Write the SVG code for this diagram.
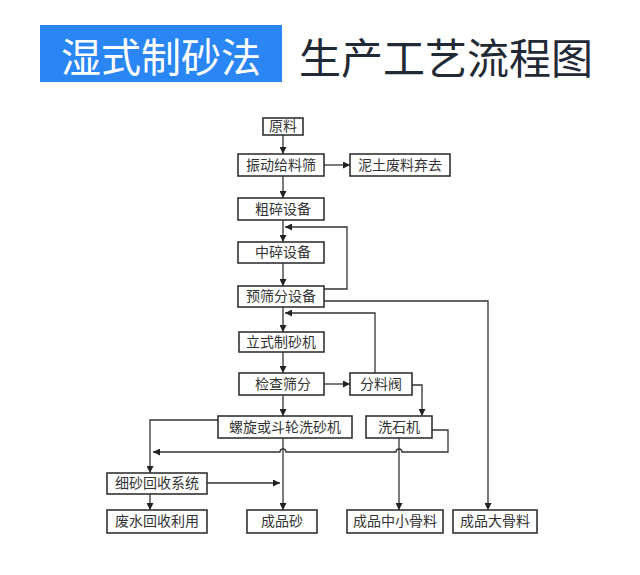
<svg xmlns="http://www.w3.org/2000/svg" width="640" height="575" viewBox="0 0 640 575">
<defs>
<marker id="ah" viewBox="0 0 10 10" refX="10" refY="5" markerWidth="7" markerHeight="7" markerUnits="userSpaceOnUse" orient="auto"><path d="M0,0 L10,5 L0,10 z" fill="#222"/></marker>
<style>
.b{fill:#fff;stroke:#333;stroke-width:1.6}
.t{font-family:"Liberation Serif","Noto Sans CJK SC",serif;font-size:14px;fill:#333;text-anchor:middle;dominant-baseline:central}
.c{fill:none;stroke:#333;stroke-width:1.3}
.a{marker-end:url(#ah)}
</style>
</defs>
<rect width="640" height="575" fill="#fff"/>
<g id="title">
<rect x="40" y="25" width="242" height="57" fill="#2a86f5"/>
<text x="161" y="55" font-family="Noto Sans CJK SC,sans-serif" font-size="40" fill="#fff" text-anchor="middle" dominant-baseline="central">湿式制砂法</text>
<text x="446" y="55" font-family="Noto Sans CJK SC,sans-serif" font-size="42" fill="#1f2a36" text-anchor="middle" dominant-baseline="central">生产工艺流程图</text>
</g>
<g id="connectors">
<path class="c a" d="M283,135 V154"/>
<path class="c a" d="M324,165 H350"/>
<path class="c a" d="M283,176 V198"/>
<path class="c a" d="M283,220 V242"/>
<path class="c a" d="M324,289 H347 V227 H285"/>
<path class="c a" d="M283,263 V286"/>
<path class="c a" d="M324,301 H488 V510"/>
<path class="c a" d="M283,307 V332"/>
<path class="c a" d="M375,373 V313 H285"/>
<path class="c a" d="M283,352 V373"/>
<path class="c a" d="M324,384 H350"/>
<path class="c a" d="M412,385 H422 V416"/>
<path class="c a" d="M283,395 V416"/>
<path class="c a" d="M218,420 H150 V473"/>
<path class="c a" d="M432,430 H448 V452 H402 a3,3 0 0 0 -6,0 H286 a3,3 0 0 0 -6,0 H153"/>
<path class="c a" d="M283,438 V510"/>
<path class="c a" d="M399,438 V510"/>
<path class="c a" d="M207,483 H280"/>
<path class="c a" d="M150,494 V510"/>
</g>
<g id="n1"><rect class="b" x="263" y="118" width="40" height="17"/><text class="t" x="283" y="126.5">原料</text></g>
<g id="n2"><rect class="b" x="238" y="154" width="86" height="22"/><text class="t" x="281" y="165">振动给料筛</text></g>
<g id="n3"><rect class="b" x="350" y="154" width="100" height="22"/><text class="t" x="400" y="165">泥土废料弃去</text></g>
<g id="n4"><rect class="b" x="238" y="198" width="86" height="22"/><text class="t" x="283" y="209">粗碎设备</text></g>
<g id="n5"><rect class="b" x="238" y="242" width="86" height="21"/><text class="t" x="283" y="252.5">中碎设备</text></g>
<g id="n6"><rect class="b" x="238" y="286" width="86" height="21"/><text class="t" x="281" y="296.5">预筛分设备</text></g>
<g id="n7"><rect class="b" x="239" y="332" width="85" height="20"/><text class="t" x="281" y="342">立式制砂机</text></g>
<g id="n8"><rect class="b" x="239" y="373" width="85" height="22"/><text class="t" x="283" y="384">检查筛分</text></g>
<g id="n9"><rect class="b" x="350" y="373" width="62" height="22"/><text class="t" x="381" y="384">分料阀</text></g>
<g id="n10"><rect class="b" x="218" y="416" width="134" height="22"/><text class="t" x="285" y="427">螺旋或斗轮洗砂机</text></g>
<g id="n11"><rect class="b" x="366" y="416" width="66" height="22"/><text class="t" x="399" y="427">洗石机</text></g>
<g id="n12"><rect class="b" x="107" y="473" width="100" height="21"/><text class="t" x="157" y="483.5">细砂回收系统</text></g>
<g id="n13"><rect class="b" x="107" y="510" width="100" height="23"/><text class="t" x="157" y="521.5">废水回收利用</text></g>
<g id="n14"><rect class="b" x="247" y="510" width="70" height="23"/><text class="t" x="282" y="521.5">成品砂</text></g>
<g id="n15"><rect class="b" x="347" y="510" width="96" height="23"/><text class="t" x="395" y="521.5">成品中小骨料</text></g>
<g id="n16"><rect class="b" x="453" y="510" width="84" height="23"/><text class="t" x="495" y="521.5">成品大骨料</text></g>
</svg>
